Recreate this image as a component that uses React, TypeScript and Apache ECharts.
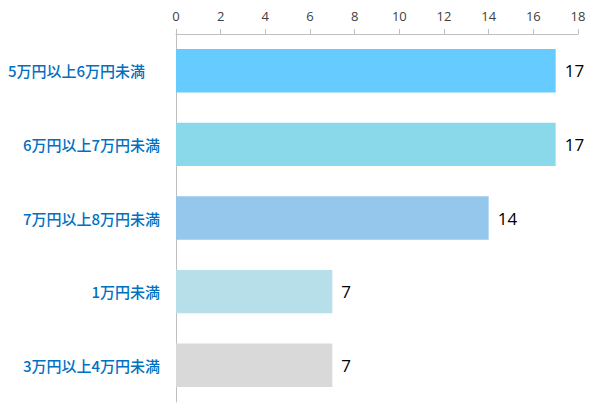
import React, { useEffect, useRef } from "react";
import * as echarts from "echarts";

const categories = [
  "5万円以上6万円未満　",
  "6万円以上7万円未満",
  "7万円以上8万円未満",
  "1万円未満",
  "3万円以上4万円未満",
];
const values = [17, 17, 14, 7, 7];
const barColors = ["#66CCFF", "#8AD9EB", "#95C7EC", "#B7DFE9", "#D9D9D9"];
const axisMin = 0;
const axisMax = 18;
const axisStep = 2;

export default function App() {
  const ref = useRef<HTMLDivElement>(null);
  useEffect(() => {
    document.body.style.margin = "0";
    const chart = echarts.init(ref.current!, null, { renderer: "svg" });
    chart.setOption({
      animation: false,
      backgroundColor: "#ffffff",
      grid: { left: 176, right: 22, top: 34, bottom: 15, containLabel: false },
      xAxis: {
        type: "value",
        position: "top",
        min: axisMin,
        max: axisMax,
        interval: axisStep,
        axisLine: { show: true, lineStyle: { color: "#bfbfbf", width: 1 } },
        axisTick: { show: true, length: 5, lineStyle: { color: "#bfbfbf" } },
        splitLine: { show: false },
        axisLabel: {
          color: "#404040",
          fontSize: 13,
          margin: 12,
          fontFamily: "'Open Sans', 'Noto Sans', sans-serif",
        },
      },
      yAxis: {
        type: "category",
        inverse: true,
        data: categories,
        axisLine: { show: true, lineStyle: { color: "#bfbfbf", width: 1 } },
        axisTick: { show: false },
        axisLabel: {
          color: "#0070C0",
          fontSize: 15,
          fontWeight: 500,
          margin: 16,
          fontFamily: "'Noto Sans CJK JP', sans-serif",
        },
      },
      series: [
        {
          type: "bar",
          data: values.map((v, i) => ({ value: v, itemStyle: { color: barColors[i] } })),
          barCategoryGap: "41%",
          label: {
            show: true,
            position: "right",
            distance: 9,
            color: "#000000",
            fontSize: 17,
            fontFamily: "'Open Sans', 'Noto Sans', sans-serif",
          },
        },
      ],
    });
    return () => chart.dispose();
  }, []);
  return <div ref={ref} style={{ width: 600, height: 417 }} />;
}
